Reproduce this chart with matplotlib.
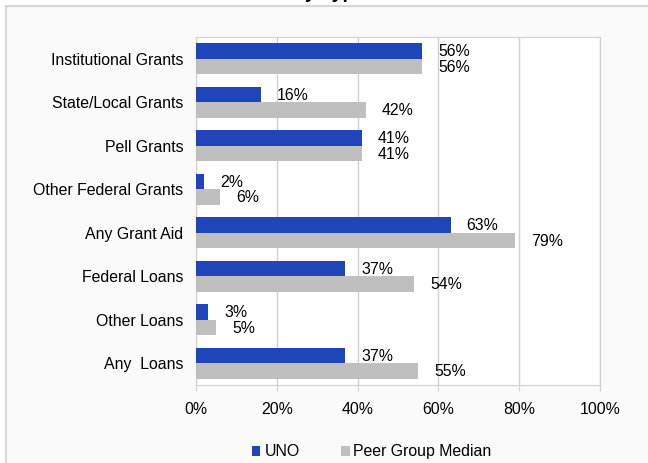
import matplotlib.pyplot as plt
import numpy as np
from matplotlib.patches import Rectangle

plt.rcParams["font.family"] = ["Liberation Sans", "DejaVu Sans"]

categories = [
    "Institutional Grants",
    "State/Local Grants",
    "Pell Grants",
    "Other Federal Grants",
    "Any Grant Aid",
    "Federal Loans",
    "Other Loans",
    "Any  Loans",
]
uno = [56, 16, 41, 2, 63, 37, 3, 37]
peer = [56, 42, 41, 6, 79, 54, 5, 55]
xticks = [0, 20, 40, 60, 80, 100]

blue = "#1f45b9"
gray = "#bfbfbf"
grid = "#d0d0d0"
fs = 11.4

W, H = 648, 463
fig = plt.figure(figsize=(W / 100, H / 100), dpi=100, facecolor="white")

# light panel with thin border, starting a few pixels in from top/left
fig.patches.append(Rectangle((6 / W, -0.01), 1.0, 1 - 6 / H + 0.01,
                             transform=fig.transFigure, facecolor="#fafafa",
                             edgecolor="#d6d6d6", linewidth=1.5, zorder=-5))

# title, mostly cut off above the figure edge
fig.text(365 / W, 1 + 2 / H, "Financial Aid by Type", ha="right", va="baseline",
         fontsize=14, fontweight="bold", color="black")

ax = fig.add_axes([196 / W, 1 - 385 / H, 404 / W, 348 / H])
ax.set_facecolor("white")

y = np.arange(len(categories))
h = 0.36
ax.barh(y - h / 2, uno, height=h, color=blue, label="UNO", zorder=3)
ax.barh(y + h / 2, peer, height=h, color=gray, label="Peer Group Median", zorder=3)

for yi, v in zip(y, uno):
    ax.annotate(f"{v}%", (v, yi - h / 2), xytext=(11.5, -0.5), textcoords="offset points",
                ha="left", va="center", fontsize=fs)
for yi, v in zip(y, peer):
    ax.annotate(f"{v}%", (v, yi + h / 2), xytext=(11.5, -0.5), textcoords="offset points",
                ha="left", va="center", fontsize=fs)

ax.set_xlim(0, 100)
ax.set_ylim(len(categories) - 0.5, -0.5)
ax.set_xticks(xticks)
ax.set_xticklabels([f"{t}%" for t in xticks], fontsize=fs)
ax.set_yticks(y)
ax.set_yticklabels(categories, fontsize=fs)
ax.tick_params(axis="y", length=0, pad=9)
ax.tick_params(axis="x", length=4, color=grid, pad=8)
ax.grid(axis="x", color=grid, linewidth=1, zorder=0)
for s in ax.spines.values():
    s.set_color(grid)

ax.legend(loc="upper center", bbox_to_anchor=(0.435, -0.13), ncol=2, frameon=False,
          fontsize=fs, handlelength=0.55, handleheight=0.55, handletextpad=0.25,
          columnspacing=2.6)

fig.savefig("out.png", dpi=100, facecolor=fig.get_facecolor())
